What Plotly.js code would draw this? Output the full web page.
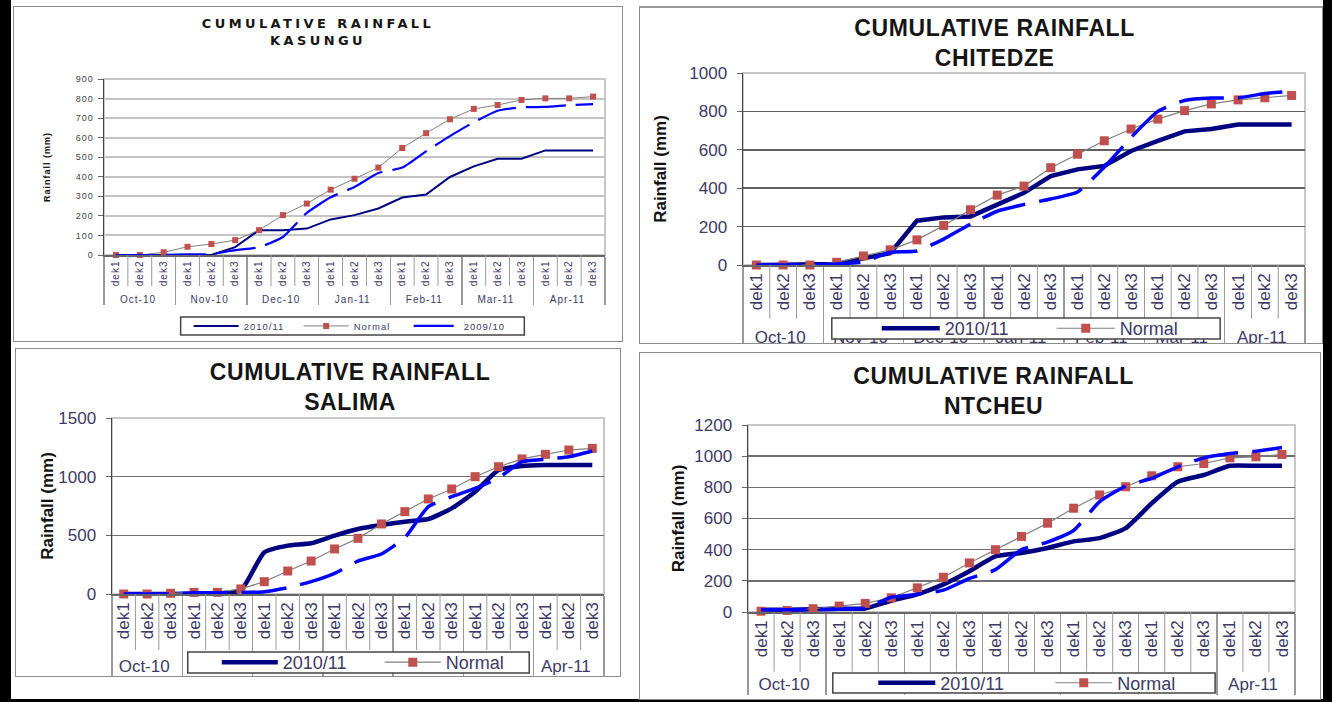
<!DOCTYPE html>
<html><head><meta charset="utf-8">
<script src="https://cdn.plot.ly/plotly-3.0.1.min.js"></script>
<style>
html,body{margin:0;padding:0;background:#fff;}
body{width:1332px;height:702px;position:relative;overflow:hidden;}
.blk{position:absolute;background:#000;}
.panel{position:absolute;border:1px solid #8c8c8c;overflow:hidden;background:#fff;}
.panel .chart{position:absolute;left:0;top:0;}
#p1 text{letter-spacing:1px;}
#p1 .gtitle{letter-spacing:3.4px;}
#p2 .gtitle, #p3 .gtitle, #p4 .gtitle{letter-spacing:0.6px;}
</style></head><body>
<div class="blk" style="left:0;top:0;width:11px;height:702px"></div>
<div class="blk" style="left:1323px;top:0;width:9px;height:702px"></div>
<div class="blk" style="left:0;top:699px;width:1332px;height:3px"></div>
<div class="panel" style="left:13px;top:6px;width:608px;height:334px"><div class="chart" id="p1"></div></div>
<div class="panel" style="left:639px;top:6px;width:682px;height:335px;border-top:2px solid #9a9a9a"><div class="chart" id="p2"></div></div>
<div class="panel" style="left:15px;top:348px;width:604px;height:327px"><div class="chart" id="p3"></div></div>
<div class="panel" style="left:639px;top:352px;width:680px;height:346px"><div class="chart" id="p4"></div></div>
<script>
// ---- data ----
const months = ["Oct-10","Nov-10","Dec-10","Jan-11","Feb-11","Mar-11","Apr-11"];
const dekads = ["dek1","dek2","dek3"];
const seriesNames = ["2010/11","Normal","2009/10"];
const stationTitles = ["KASUNGU","CHITEDZE","SALIMA","NTCHEU"];

const kasungu2010   = [0,0,0,0,0,40,127,127,135,182,204,238,294,309,399,453,492,492,535,535,535];
const kasunguNormal = [0,0,14,42,56,76,127,204,263,334,390,447,547,623,694,747,767,793,801,801,810];
const kasungu2009   = [0,0,0,3,5,25,40,92,215,295,348,419,447,530,608,679,738,755,757,766,772];

const chitedze2010   = [0,0,0,5,35,61,231,248,253,315,376,463,498,516,594,647,696,708,732,732,732];
const chitedzeNormal = [0,0,0,14,47,79,131,206,288,364,411,507,577,647,708,760,804,839,860,871,883];
const chitedze2009   = [0,0,0,5,17,66,73,135,213,280,315,344,380,510,664,800,857,870,870,893,905];

const salima2010   = [0,0,0,3,5,31,355,412,432,497,554,588,616,639,730,872,1057,1091,1099,1099,1099];
const salimaNormal = [0,0,6,14,14,43,105,196,281,384,474,597,702,810,895,1000,1085,1151,1190,1227,1241];
const salima2009   = [0,0,0,10,10,12,20,54,105,176,281,341,480,744,830,900,990,1128,1148,1170,1219];

const ntcheu2010   = [15,15,18,21,23,72,113,177,262,357,379,411,453,474,538,698,836,879,938,938,938];
const ntcheuNormal = [5,10,21,38,55,91,155,223,315,400,485,570,666,751,804,874,932,953,989,996,1011];
const ntcheu2009   = [15,15,15,18,25,95,113,140,215,272,400,449,523,708,808,857,932,989,1017,1032,1055];

// ---- helpers ----
function buildX(){
  const m=[], d=[];
  months.forEach(mo=>dekads.forEach(dk=>{m.push(mo); d.push(dk);}));
  return [m,d];
}
const X = buildX();
const nCat = months.length*dekads.length;
const labelColor = '#3d3a66';

function panel(id, c){
  const traces = [
    {type:'scatter', mode:'lines', name:seriesNames[0], x:X, y:c.s2010,
     line:{color:'#000080', width:c.navyW, shape:c.navyShape, smoothing:0.5}, cliponaxis:false},
    {type:'scatter', mode:'lines+markers', name:seriesNames[1], x:X, y:c.normal,
     line:{color:'#808080', width:c.grayW}, marker:{symbol:'square', size:c.mk, color:'#c0504d'}, cliponaxis:false},
    {type:'scatter', mode:'lines', name:seriesNames[2], x:X, y:c.s2009,
     line:{color:'#0000ff', width:c.blueW, dash:c.dash, shape:'spline', smoothing:0.5},
     showlegend:c.blueLegend, cliponaxis:false}
  ];
  const shapes = [
    {type:'rect', xref:'paper', yref:'paper', x0:0, x1:1, y0:0, y1:1, line:{color:c.borderC, width:2}, layer:'below'}
  ];
  for(let i=1;i<nCat;i++){
    if(i%dekads.length===0) continue;
    shapes.push({type:'line', xref:'paper', yref:'paper', x0:i/nCat, x1:i/nCat, y0:0, y1:-c.dekDepth,
                 line:{color:'#9a9a9a', width:1}});
  }
  shapes.push({type:'rect', xref:'paper', yref:'paper', x0:c.box[0], x1:c.box[1], y0:c.box[2], y1:c.box[3],
               fillcolor:'#ffffff', line:{color:'#444', width:1.5}, layer:'above'});
  const fam = 'Liberation Sans, Arial, sans-serif';
  const layout = {
    width:c.W, height:c.H,
    margin:{l:c.l, r:c.r, t:c.t, b:c.b, autoexpand:false},
    paper_bgcolor:'#fff', plot_bgcolor:'#fff',
    title:{text:'CUMULATIVE RAINFALL<br>'+c.name,
           font:{family:c.titleFam, size:c.titleSize, color:'#151515', weight:'bold'},
           x:c.titleX, xref:'container', xanchor:'center',
           y:1-c.titleTop/c.H, yref:'container', yanchor:'top'},
    showlegend:true,
    legend:{orientation:'h', x:c.legX, y:c.legY, xanchor:'left', yanchor:'middle',
            bgcolor:'rgba(0,0,0,0)', borderwidth:0,
            font:{family:fam, size:c.legSize, color:labelColor},
            itemwidth:c.itemW, entrywidth:c.entryW, entrywidthmode:'pixels', traceorder:'normal'},
    xaxis:{type:'multicategory', range:[-0.5, nCat-0.5], autorange:false,
           tickangle:-90, tickfont:{family:fam, size:c.xSize, color:labelColor},
           showdividers:true, dividercolor:'#9a9a9a', dividerwidth:1.5,
           showline:true, linecolor:'#666', linewidth:1.5, ticks:'', showgrid:false,
           automargin:false, fixedrange:true},
    yaxis:{range:[0,c.yMax], dtick:c.dtick, tick0:0, showgrid:true, gridcolor:c.gridC, gridwidth:c.gridW,
           showline:true, linecolor:'#444', linewidth:1.5, ticks:'outside', ticklen:5, tickcolor:'#666',
           ticklabelstandoff:c.tls,
           tickfont:{family:fam, size:c.ySize, color:c.yColor},
           title:{text:'Rainfall (mm)', font:{family:fam, size:c.yTitleSize, color:'#111', weight:'bold'}, standoff:c.standoff},
           zeroline:false, automargin:false, fixedrange:true},
    shapes:shapes
  };
  Plotly.newPlot(id, traces, layout, {staticPlot:true, displayModeBar:false});
}

panel('p1', {name:stationTitles[0], s2010:kasungu2010, normal:kasunguNormal, s2009:kasungu2009,
  W:608, H:334, l:90, r:17, t:72, b:86, yMax:900, dtick:100,
  navyW:2, navyShape:'linear', grayW:1, mk:6, blueW:2.2, dash:'40px,10px', blueLegend:true,
  borderC:'#c8c8c8', gridC:'#c4c4c4', gridW:2, dekDepth:0.176,
  box:[0.153,0.839,-0.455,-0.352], legX:0.169, legY:-0.403, legSize:9.5, itemW:45, entryW:50,
  xSize:10, ySize:9, yColor:'#444', yTitleSize:9, standoff:26, tls:2,
  titleFam:'DejaVu Sans, sans-serif', titleSize:13, titleX:0.5, titleTop:21});

panel('p2', {name:stationTitles[1], s2010:chitedze2010, normal:chitedzeNormal, s2009:chitedze2009,
  W:682, H:360, l:103, r:17, t:65, b:103, yMax:1000, dtick:200,
  navyW:4.5, navyShape:'linear', grayW:1.2, mk:9, blueW:3.5, dash:'45px,14px', blueLegend:false,
  borderC:'#c8c8c8', gridC:'#606060', gridW:1.5, dekDepth:0.28,
  box:[0.158,0.849,-0.385,-0.276], legX:0.238, legY:-0.331, legSize:18, itemW:58, entryW:102,
  xSize:17, ySize:17, yColor:labelColor, yTitleSize:17, standoff:18, tls:6,
  titleFam:'Liberation Sans, Arial, sans-serif', titleSize:23, titleX:0.52, titleTop:28});

panel('p3', {name:stationTitles[2], s2010:salima2010, normal:salimaNormal, s2009:salima2009,
  W:604, H:327, l:96, r:16, t:69, b:82, yMax:1500, dtick:500,
  navyW:4.5, navyShape:'spline', grayW:1.2, mk:9, blueW:3.5, dash:'45px,14px', blueLegend:false,
  borderC:'#c8c8c8', gridC:'#707070', gridW:1.5, dekDepth:0.318,
  box:[0.154,0.848,-0.449,-0.330], legX:0.213, legY:-0.389, legSize:18, itemW:56, entryW:92,
  xSize:17, ySize:17, yColor:labelColor, yTitleSize:17, standoff:0, tls:6,
  titleFam:'Liberation Sans, Arial, sans-serif', titleSize:23, titleX:0.553, titleTop:31});

panel('p4', {name:stationTitles[3], s2010:ntcheu2010, normal:ntcheuNormal, s2009:ntcheu2009,
  W:680, H:346, l:108, r:25, t:72, b:87, yMax:1200, dtick:200,
  navyW:4.5, navyShape:'spline', grayW:1.2, mk:9, blueW:3.5, dash:'45px,14px', blueLegend:false,
  borderC:'#c8c8c8', gridC:'#707070', gridW:1.5, dekDepth:0.32,
  box:[0.155,0.854,-0.433,-0.326], legX:0.229, legY:-0.380, legSize:18, itemW:57, entryW:105,
  xSize:17, ySize:17, yColor:labelColor, yTitleSize:17, standoff:5, tls:6,
  titleFam:'Liberation Sans, Arial, sans-serif', titleSize:23, titleX:0.52, titleTop:31});
</script>
</body></html>
